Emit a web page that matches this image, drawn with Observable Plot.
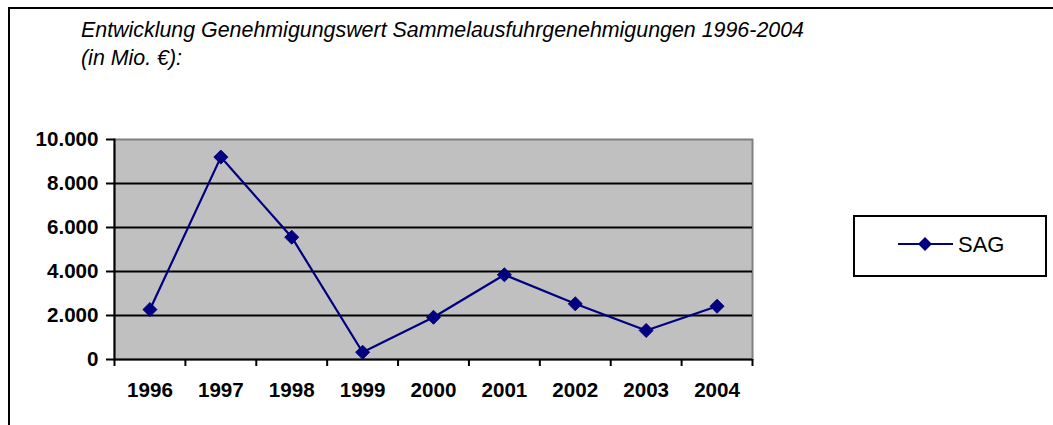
<!DOCTYPE html>
<html>
<head>
<meta charset="utf-8">
<script src="https://cdn.jsdelivr.net/npm/d3@7"></script>
<script src="https://cdn.jsdelivr.net/npm/@observablehq/plot@0.6"></script>
<style>
  html, body { margin: 0; padding: 0; background: #fff; overflow: hidden; }
  #wrap { position: relative; width: 1053px; height: 425px; overflow: hidden; font-family: "Liberation Sans", Arial, sans-serif; }
  #frame { position: absolute; left: 8px; top: 7px; width: 1200px; height: 600px; border: 2px solid #000; box-sizing: border-box; }
  #title { position: absolute; left: 81px; top: 17px; font-size: 21.4px; font-style: italic; line-height: 27.5px; color: #000; white-space: nowrap; }
  #chart { position: absolute; left: 0; top: 0; }
  #legend { position: absolute; left: 853px; top: 215px; width: 194px; height: 62px; border: 2px solid #000; box-sizing: border-box; background: #fff; }
  #legend svg { position: absolute; left: 0; top: 0; }
  #legend span { position: absolute; left: 103px; top: 13px; font-size: 22px; line-height: 30px; color: #000; }
</style>
</head>
<body>
<div id="wrap">
  <div id="frame"></div>
  <div id="chart"></div>
  <div id="title">Entwicklung Genehmigungswert Sammelausfuhrgenehmigungen 1996-2004<br>(in Mio. €):</div>
  <div id="legend"></div>
</div>
<script>
const years = [1996, 1997, 1998, 1999, 2000, 2001, 2002, 2003, 2004];
const sag = [2270, 9200, 5560, 330, 1920, 3850, 2530, 1320, 2420];
const seriesName = "SAG";
const yTicks = [0, 2000, 4000, 6000, 8000, 10000];
const yTickLabels = ["0", "2.000", "4.000", "6.000", "8.000", "10.000"];
const xTickLabels = ["1996", "1997", "1998", "1999", "2000", "2001", "2002", "2003", "2004"];

const data = years.map((y, i) => ({year: y, value: sag[i]}));
const boundaries = years.map(y => y - 0.5).concat([years[years.length - 1] + 0.5]);
const navy = "#000080";

const plot = Plot.plot({
  width: 1053,
  height: 425,
  marginLeft: 114,
  marginRight: 301,
  marginTop: 139,
  marginBottom: 66,
  style: {fontFamily: "'Liberation Sans', Arial, sans-serif", fontSize: "20.6px", fontWeight: "bold", color: "#000", background: "transparent", overflow: "visible"},
  x: {domain: [years[0] - 0.5, years[years.length - 1] + 0.5], label: null},
  y: {domain: [0, 10000], label: null},
  marks: [
    Plot.frame({fill: "#c0c0c0", stroke: "#808080", strokeWidth: 2}),
    Plot.ruleY(yTicks.filter(d => d > 0 && d < 10000), {stroke: "#000", strokeWidth: 2}),
    Plot.frame({anchor: "left", stroke: "#000", strokeWidth: 2}),
    Plot.ruleY([0], {stroke: "#000", strokeWidth: 2}),
    Plot.axisY({ticks: yTicks, tickSize: 8, tickPadding: 8, strokeWidth: 2, label: null,
      tickFormat: d => yTickLabels[yTicks.indexOf(d)]}),
    Plot.axisX({ticks: boundaries, tickSize: 7, strokeWidth: 2, label: null, tickFormat: () => ""}),
    Plot.axisX({ticks: years, tickSize: 0, tickPadding: 23, label: null,
      tickFormat: d => xTickLabels[years.indexOf(d)]}),
    Plot.line(data, {x: "year", y: "value", stroke: navy, strokeWidth: 2.2}),
    Plot.dot(data, {x: "year", y: "value", symbol: "diamond2", r: 6.3, fill: navy, stroke: navy, strokeWidth: 1})
  ]
});
document.getElementById("chart").appendChild(plot);

// legend
const leg = document.getElementById("legend");
const ls = d3.create("svg").attr("width", 194).attr("height", 62);
ls.append("line").attr("x1", 43).attr("x2", 98).attr("y1", 27).attr("y2", 27).attr("stroke", navy).attr("stroke-width", 2);
ls.append("path").attr("d", d3.symbol(d3.symbolDiamond2, Math.PI * 6.3 * 6.3)()).attr("transform", "translate(70,27)").attr("fill", navy);
leg.appendChild(ls.node());
const sp = document.createElement("span");
sp.textContent = seriesName;
leg.appendChild(sp);
</script>
</body>
</html>
